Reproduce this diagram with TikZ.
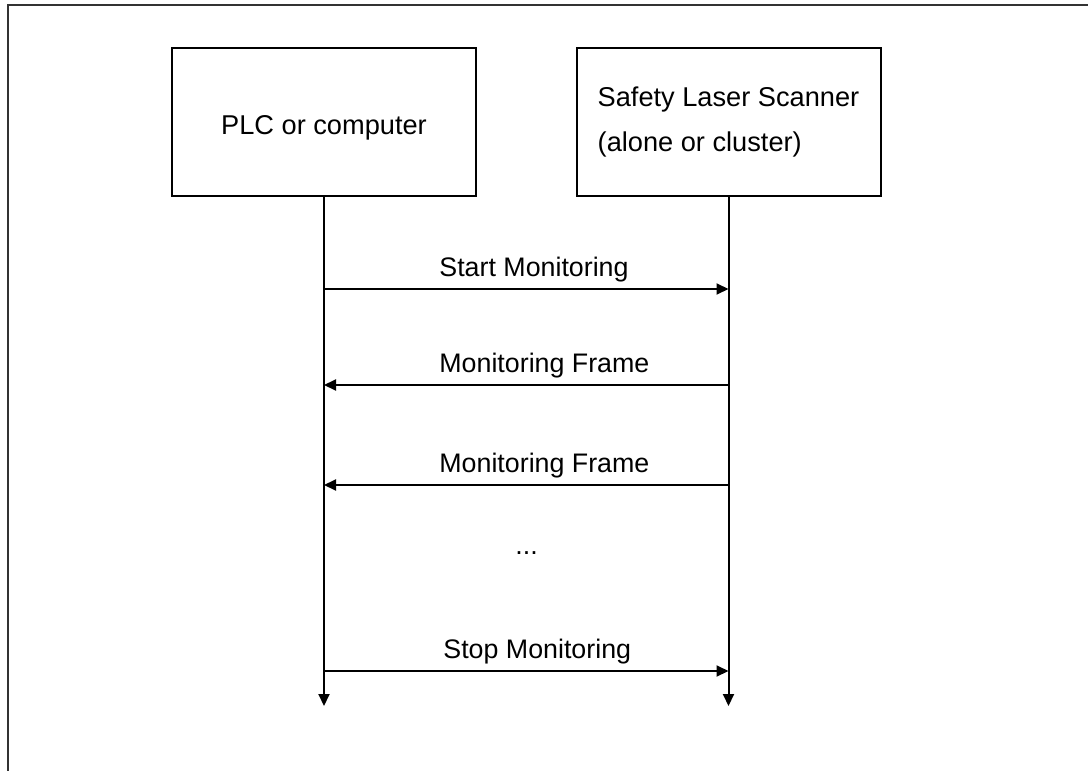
\documentclass[tikz,border=0pt]{standalone}
\usepackage{fontspec}
\setmainfont{Liberation Sans}
\usetikzlibrary{arrows.meta}
\begin{document}
\begin{tikzpicture}[x=0.5pt,y=-0.5pt,
  box/.style={draw,line width=1pt,minimum width=152pt,minimum height=74pt,inner sep=0pt,font=\fontsize{13.6}{22.5}\selectfont},
  msg/.style={line width=1pt,-{Triangle[length=6pt,width=5.5pt]}},
  lbl/.style={anchor=base west,inner sep=0pt,font=\fontsize{13.4}{16}\selectfont}]
\useasboundingbox (0,0) rectangle (1088,771);
\draw[line width=1pt,black!80] (8,771) -- (8,4.5) -- (1088,4.5);
\node[box,text height=12.6pt,text depth=0pt] (plc) at (324,121.75) {PLC or computer};
\node[box,align=left] (sls) at (728.5,121.75) {Safety Laser Scanner\\(alone or cluster)};
\coordinate (pend) at (324,706);
\coordinate (send) at (728.5,706);
\draw[msg] (plc) -- (pend);
\draw[msg] (sls) -- (send);
\coordinate (p1) at (324,289);
\coordinate (s1) at (728.5,289);
\coordinate (p2) at (324,385);
\coordinate (s2) at (728.5,385);
\coordinate (p3) at (324,485);
\coordinate (s3) at (728.5,485);
\coordinate (p4) at (324,671);
\coordinate (s4) at (728.5,671);
\draw[msg] (p1) -- (s1);
\draw[msg] (s2) -- (p2);
\draw[msg] (s3) -- (p3);
\draw[msg] (p4) -- (s4);
\node[lbl] (l1) at (439,276) {Start Monitoring};
\node[lbl] (l2) at (439,372) {Monitoring Frame};
\node[lbl] (l3) at (439,472) {Monitoring Frame};
\node[lbl] (l4) at (515,554) {...};
\node[lbl] (l5) at (443,658) {Stop Monitoring};
\end{tikzpicture}
\end{document}
